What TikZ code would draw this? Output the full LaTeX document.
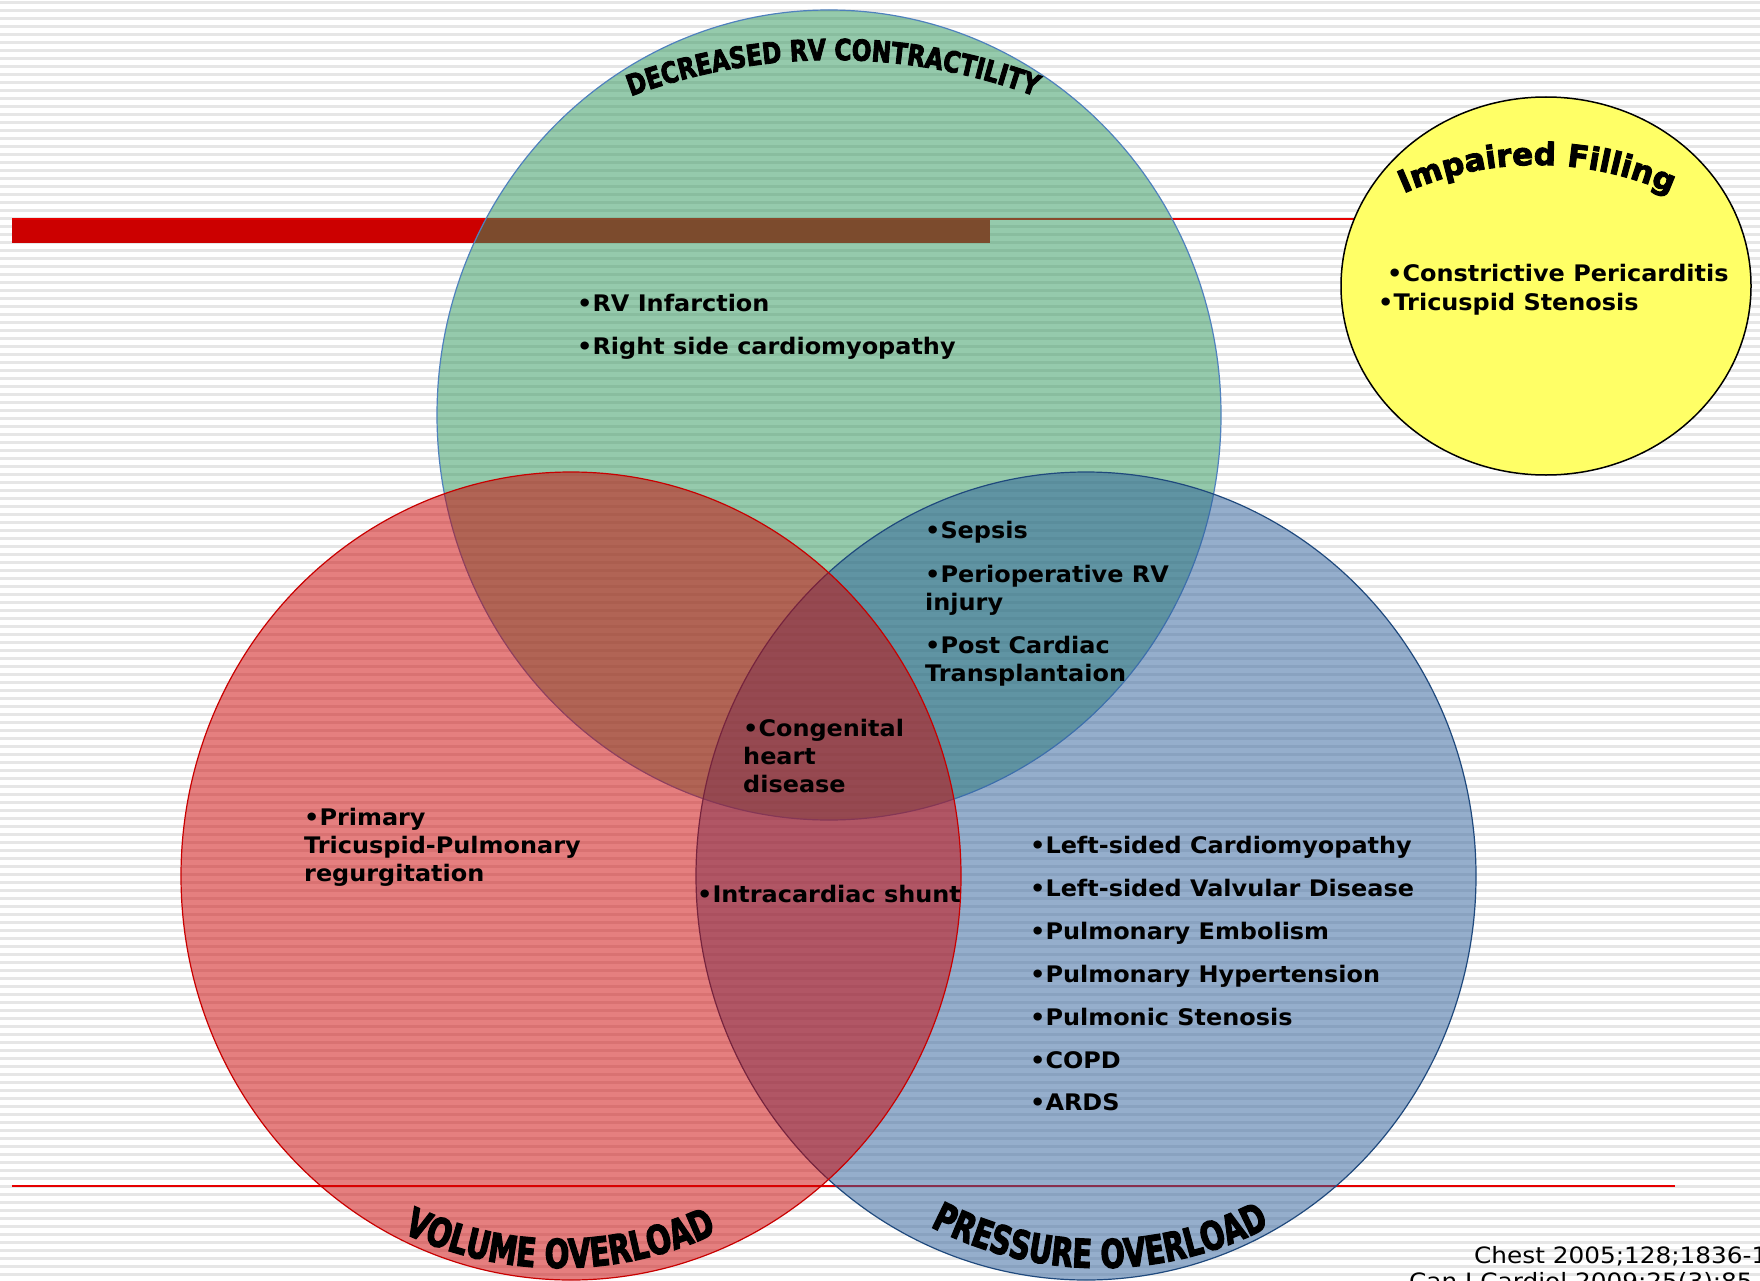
\documentclass[tikz,border=0pt]{standalone}
\usepackage{fontspec}
\setmainfont{DejaVu Sans}
\newfontfamily\titleA[FakeStretch=0.8,FakeBold=3]{DejaVu Sans}
\newfontfamily\titleB[FakeStretch=0.72,FakeBold=3]{DejaVu Sans}
\newfontfamily\titleC[FakeBold=3]{DejaVu Sans}
\newfontfamily\itemfont[FakeStretch=1.05]{DejaVu Sans}
\newfontfamily\citefont[FakeStretch=1.1]{DejaVu Sans}
\usetikzlibrary{decorations.text}
\definecolor{greenbase}{RGB}{45,150,90}
\definecolor{bluebase}{RGB}{45,95,155}
\definecolor{redbase}{RGB}{205,0,0}
\definecolor{greenedge}{RGB}{79,129,189}
\definecolor{blueedge}{RGB}{31,73,125}
\definecolor{rededge}{RGB}{200,0,0}
\definecolor{barred}{RGB}{204,0,0}
\definecolor{thinred}{RGB}{230,0,0}
\definecolor{yellowfill}{RGB}{255,255,102}
\definecolor{stripegray}{RGB}{230,230,230}
\tikzset{
  stripe/.style={draw=stripegray,line width=2.2pt},
  venn/.style={fill opacity=0.5,draw opacity=1,line width=1.2pt},
  item/.style={inner sep=0pt,anchor=base west,align=left,
    font=\itemfont\bfseries\fontsize{22.8}{28}\selectfont},
  cite/.style={inner sep=0pt,anchor=base west,font=\citefont\fontsize{22.5}{26}\selectfont},
}
\begin{document}
\begin{tikzpicture}[x=1pt,y=-1pt]
\clip (0,0) rectangle (1760,1281);
\fill[white] (0,0) rectangle (1760,1281);
\foreach \k in {0,...,160} \draw[stripe] (0,2.5+8*\k) -- (1760,2.5+8*\k);

% title bar and rules
\fill[barred] (12,219) rectangle (990,243);
\draw[thinred,line width=2pt] (12,219.5) -- (1360,219.5);
\draw[thinred,line width=1.2pt] (12,1186) -- (1675,1186);

% Venn circles
\draw[venn,fill=greenbase,draw=greenedge] (829,415) ellipse [x radius=392,y radius=405];
\draw[venn,fill=bluebase,draw=blueedge] (1086,876) ellipse [x radius=390,y radius=404];
\draw[venn,fill=redbase,draw=rededge] (571,876) ellipse [x radius=390,y radius=404];

% impaired filling circle
\draw[fill=yellowfill,draw=black,line width=1.5pt] (1546,286) ellipse [x radius=205,y radius=189];

% curved titles
\path[decorate,decoration={text along path,text align=center,
  text={|\titleA\bfseries\fontsize{29}{29}\selectfont|DECREASED RV CONTRACTILITY}}]
  (833,640) ++(235:580) arc[start angle=235,end angle=305,radius=580];
\path[decorate,decoration={text along path,text align=center,
  text={|\titleB\bfseries\fontsize{40}{40}\selectfont|VOLUME OVERLOAD}}]
  (560,900) ++(130:368) arc[start angle=130,end angle=50,radius=368];
\path[decorate,decoration={text along path,text align=center,
  text={|\titleB\bfseries\fontsize{39.5}{39.5}\selectfont|PRESSURE OVERLOAD}}]
  (1100,900) ++(130:368) arc[start angle=130,end angle=50,radius=368];
\path[decorate,decoration={text along path,text align=center,
  text={|\titleC\bfseries\fontsize{31}{31}\selectfont|Impaired Filling}}]
  (1537,490) ++(225:325) arc[start angle=225,end angle=315,radius=325];

% items
\node[item] (rvinf) at (577,311.5) {•RV Infarction};
\node[item] (rscm) at (577,354) {•Right side cardiomyopathy};
\node[item] (sepsis) at (925,538) {•Sepsis};
\node[item] (periop) at (925,610) {•Perioperative RV\\injury};
\node[item] (postcard) at (925,681) {•Post Cardiac\\Transplantaion};
\node[item] (congen) at (743,792) {•Congenital\\heart\\disease};
\node[item] (primary) at (304,881.5) {•Primary\\Tricuspid-Pulmonary\\regurgitation};
\node[item] (shunt) at (697,902) {•Intracardiac shunt};
\node[item] (lscm) at (1030,853.6) {•Left-sided Cardiomyopathy};
\node[item] (lsvd) at (1030,896.3) {•Left-sided Valvular Disease};
\node[item] (pe) at (1030,939) {•Pulmonary Embolism};
\node[item] (ph) at (1030,982.6) {•Pulmonary Hypertension};
\node[item] (ps) at (1030,1025) {•Pulmonic Stenosis};
\node[item] (copd) at (1030,1068) {•COPD};
\node[item] (ards) at (1030,1110.7) {•ARDS};
\node[item] (constr) at (1387,281) {•Constrictive Pericarditis};
\node[item] (tsten) at (1378,310) {•Tricuspid Stenosis};

% citation
\node[cite] (cite1) at (1474,1263) {Chest 2005;128;1836-1852};
\node[cite] (cite2) at (1409,1289) {Can J Cardiol 2009;25(3):85-90};
\end{tikzpicture}
\end{document}
